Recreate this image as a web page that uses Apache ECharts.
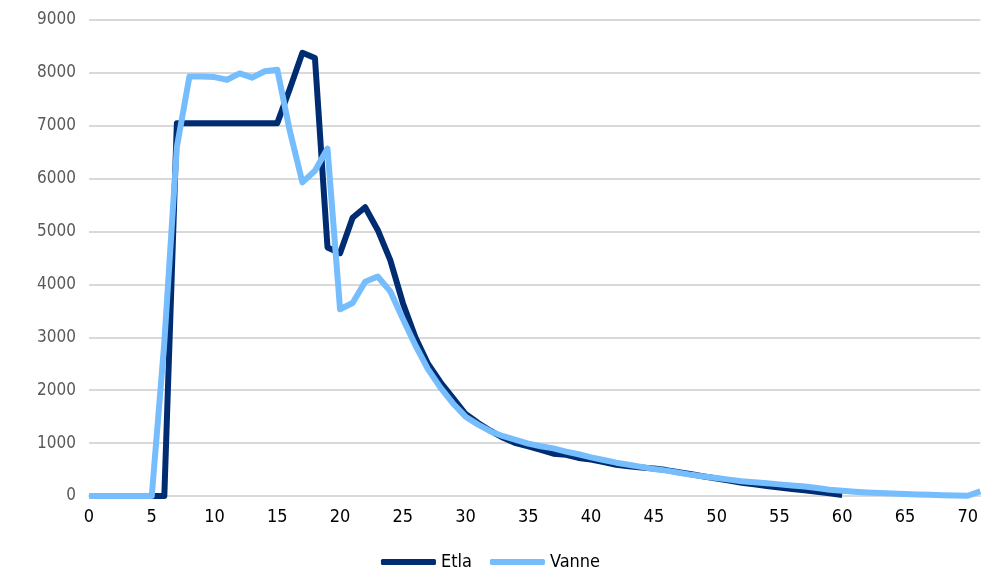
<!DOCTYPE html>
<html>
<head>
<meta charset="utf-8">
<script src="https://cdn.jsdelivr.net/npm/echarts@6/dist/echarts.min.js"></script>
<style>
  html, body { margin: 0; padding: 0; background: #fff; }
  #chart { width: 981px; height: 580px; }
</style>
</head>
<body>
<div id="chart"></div>
<script>
// x categories 0..71
var xData = [];
for (var i = 0; i <= 71; i++) xData.push(String(i));

var etla = [0, 0, 0, 0, 0, 0, 0, 7050, 7050, 7050,
  7050, 7050, 7050, 7050, 7050, 7050, 7700, 8380, 8280, 4700,
  4590, 5260, 5460, 5030, 4460, 3650, 3000, 2500, 2150, 1850,
  1550, 1380, 1230, 1100, 1000, 940, 870, 800, 780, 720,
  690, 640, 590, 560, 540, 520, 490, 450, 410, 370,
  330, 290, 250, 220, 190, 160, 130, 110, 80, 50,
  20, null, null, null, null, null, null, null, null, null,
  null, null];

var vanne = [0, 0, 0, 0, 0, 0, 2900, 6600, 7930, 7930,
  7920, 7870, 7990, 7910, 8030, 8060, 6900, 5930, 6150, 6570,
  3530, 3650, 4050, 4150, 3870, 3350, 2850, 2400, 2050, 1750,
  1500, 1350, 1220, 1130, 1060, 990, 940, 900, 840, 790,
  730, 680, 630, 590, 550, 510, 480, 440, 400, 370,
  340, 310, 280, 260, 240, 220, 200, 180, 150, 120,
  100, 80, 65, 55, 45, 38, 30, 22, 15, 10,
  5, 90];

var fontFam = "'Liberation Sans Narrow', 'DejaVu Sans Condensed', 'Roboto Condensed', sans-serif";

var myChart = echarts.init(document.getElementById("chart"));
var option = {
  animation: false,
  textStyle: { fontFamily: fontFam },
  grid: { left: 89, right: 0, top: 20, bottom: 84 },
  legend: {
    bottom: 4,
    left: 'center',
    icon: 'roundRect',
    itemWidth: 55,
    itemHeight: 6,
    itemGap: 18,
    textStyle: { fontFamily: fontFam, fontSize: 18, color: '#000' },
    data: ['Etla', 'Vanne']
  },
  xAxis: {
    type: 'category',
    boundaryGap: false,
    data: xData,
    axisLine: { show: true, lineStyle: { color: '#d9d9d9', width: 2 } },
    axisTick: { show: false },
    axisLabel: {
      interval: 4,
      margin: 12,
      fontSize: 18,
      color: '#000',
      fontFamily: fontFam
    },
    splitLine: { show: false }
  },
  yAxis: {
    type: 'value',
    min: 0,
    max: 9000,
    interval: 1000,
    axisLine: { show: false },
    axisTick: { show: false },
    axisLabel: {
      margin: 13,
      fontSize: 17,
      color: '#595959',
      fontFamily: fontFam,
      formatter: function (v) { return String(v); }
    },
    splitLine: { lineStyle: { color: '#d9d9d9', width: 2 } }
  },
  series: [
    {
      name: 'Etla',
      type: 'line',
      data: etla,
      symbol: 'none',
      connectNulls: false,
      lineStyle: { color: '#002d72', width: 6, join: 'round' },
      itemStyle: { color: '#002d72' }
    },
    {
      name: 'Vanne',
      type: 'line',
      data: vanne,
      symbol: 'none',
      lineStyle: { color: '#75bdfd', width: 6, join: 'round' },
      itemStyle: { color: '#75bdfd' }
    }
  ]
};
myChart.setOption(option);
</script>
</body>
</html>
